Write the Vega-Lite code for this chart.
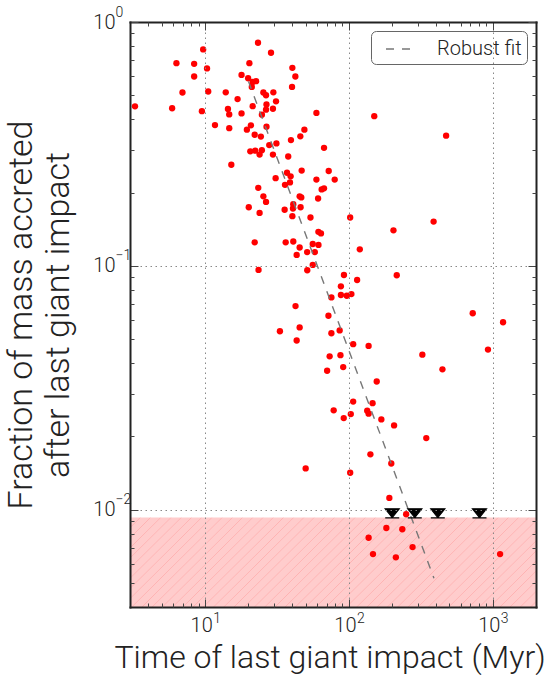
{
  "$schema": "https://vega.github.io/schema/vega-lite/v6.json",
  "width": 406,
  "height": 585,
  "autosize": "none",
  "padding": {"left": 130, "top": 22, "right": 16, "bottom": 68},
  "config": {
    "view": {"stroke": null},
    "font": "Roboto",
    "axis": {
      "labelFont": "Roboto", "labelFontWeight": 300, "labelColor": "#222",
      "titleFont": "Roboto", "titleFontWeight": 300, "titleColor": "#222",
      "tickColor": "#444", "tickWidth": 1,
      "domainColor": "#222", "domainWidth": 2, "domainCap": "square",
      "labelFlush": false, "labelOverlap": false
    },
    "legend": {
      "orient": "top-right", "offset": 9, "padding": 5,
      "strokeColor": "#666", "fillColor": "white", "cornerRadius": 5,
      "labelFont": "Roboto", "labelFontWeight": 300, "labelFontSize": 20, "labelColor": "#222",
      "symbolSize": 576, "symbolStrokeWidth": 1.4, "symbolOffset": 9, "labelOffset": 26
    }
  },
  "datasets": {
    "band": [{"x1": 3, "x2": 2000, "y1": 0.004, "y2": 0.0093}],
    "fit": [{"t": 20, "f": 0.571, "series": "Robust fit"}, {"t": 390, "f": 0.00525, "series": "Robust fit"}],
    "limits": [{"t": 200, "f": 0.0093}, {"t": 287, "f": 0.0093}, {"t": 415, "f": 0.0093}, {"t": 809, "f": 0.0093}],
    "pts": [
      {"t": 3.25, "f": 0.451}, {"t": 5.89, "f": 0.443}, {"t": 6.31, "f": 0.678}, {"t": 6.95, "f": 0.514},
      {"t": 8.38, "f": 0.674}, {"t": 8.38, "f": 0.598}, {"t": 9.68, "f": 0.772}, {"t": 10.3, "f": 0.645},
      {"t": 9.49, "f": 0.431}, {"t": 10.5, "f": 0.519}, {"t": 11.7, "f": 0.378}, {"t": 13.9, "f": 0.515},
      {"t": 14.4, "f": 0.44}, {"t": 14.7, "f": 0.418}, {"t": 14.7, "f": 0.367}, {"t": 15.2, "f": 0.26},
      {"t": 16.8, "f": 0.483}, {"t": 17.9, "f": 0.607}, {"t": 17.9, "f": 0.422}, {"t": 20.3, "f": 0.678},
      {"t": 19.9, "f": 0.588}, {"t": 21.4, "f": 0.568}, {"t": 22.6, "f": 0.572}, {"t": 21.1, "f": 0.542},
      {"t": 23.3, "f": 0.822}, {"t": 28.7, "f": 0.748}, {"t": 25.4, "f": 0.514}, {"t": 26.5, "f": 0.501},
      {"t": 29.8, "f": 0.515}, {"t": 31.1, "f": 0.473}, {"t": 26.7, "f": 0.459}, {"t": 21.4, "f": 0.452},
      {"t": 24.8, "f": 0.417}, {"t": 26.5, "f": 0.437}, {"t": 29.6, "f": 0.441}, {"t": 20.8, "f": 0.377},
      {"t": 19.5, "f": 0.362}, {"t": 26.7, "f": 0.372}, {"t": 22.1, "f": 0.345}, {"t": 24.4, "f": 0.339},
      {"t": 40.4, "f": 0.649}, {"t": 42.4, "f": 0.598}, {"t": 40.2, "f": 0.542}, {"t": 27.9, "f": 0.313},
      {"t": 31.3, "f": 0.318}, {"t": 39.5, "f": 0.328}, {"t": 45.9, "f": 0.34}, {"t": 49.0, "f": 0.362},
      {"t": 59.4, "f": 0.424}, {"t": 20.6, "f": 0.295}, {"t": 22.3, "f": 0.297}, {"t": 23.9, "f": 0.286},
      {"t": 24.8, "f": 0.298}, {"t": 29.6, "f": 0.286}, {"t": 37.8, "f": 0.281}, {"t": 30.9, "f": 0.229},
      {"t": 37.1, "f": 0.241}, {"t": 39.3, "f": 0.233}, {"t": 46.9, "f": 0.246}, {"t": 35.9, "f": 0.215},
      {"t": 38.9, "f": 0.22}, {"t": 59.4, "f": 0.226}, {"t": 67.1, "f": 0.305}, {"t": 72.3, "f": 0.245},
      {"t": 79.6, "f": 0.226}, {"t": 64.6, "f": 0.206}, {"t": 67.1, "f": 0.208}, {"t": 23.4, "f": 0.209},
      {"t": 25.4, "f": 0.193}, {"t": 45.4, "f": 0.193}, {"t": 46.6, "f": 0.191}, {"t": 61.0, "f": 0.189},
      {"t": 150, "f": 0.411}, {"t": 474, "f": 0.342},
      {"t": 26.5, "f": 0.183}, {"t": 20.1, "f": 0.174}, {"t": 23.9, "f": 0.165}, {"t": 35.7, "f": 0.17},
      {"t": 41.0, "f": 0.179}, {"t": 40.8, "f": 0.172}, {"t": 46.1, "f": 0.174}, {"t": 40.4, "f": 0.16},
      {"t": 54.0, "f": 0.158}, {"t": 61.3, "f": 0.138}, {"t": 63.9, "f": 0.136}, {"t": 22.1, "f": 0.125},
      {"t": 36.3, "f": 0.125}, {"t": 41.0, "f": 0.126}, {"t": 45.4, "f": 0.119}, {"t": 56.0, "f": 0.123},
      {"t": 61.4, "f": 0.122}, {"t": 51.2, "f": 0.114}, {"t": 57.9, "f": 0.114}, {"t": 43.3, "f": 0.111},
      {"t": 56.0, "f": 0.101}, {"t": 51.3, "f": 0.096}, {"t": 23.5, "f": 0.0963}, {"t": 75.5, "f": 0.0743},
      {"t": 42.5, "f": 0.0685}, {"t": 72.0, "f": 0.0625}, {"t": 33.1, "f": 0.054}, {"t": 45.4, "f": 0.056},
      {"t": 75.5, "f": 0.053}, {"t": 43.3, "f": 0.0495}, {"t": 73.4, "f": 0.0426}, {"t": 70.5, "f": 0.0372},
      {"t": 102, "f": 0.158}, {"t": 204, "f": 0.14}, {"t": 388, "f": 0.152}, {"t": 119, "f": 0.117},
      {"t": 92.3, "f": 0.0918}, {"t": 114, "f": 0.0876}, {"t": 215, "f": 0.0916}, {"t": 87.9, "f": 0.0825},
      {"t": 87.9, "f": 0.076}, {"t": 96.6, "f": 0.0755}, {"t": 104, "f": 0.0767}, {"t": 86.2, "f": 0.0544},
      {"t": 726, "f": 0.064}, {"t": 1180, "f": 0.0588}, {"t": 107, "f": 0.0478}, {"t": 137, "f": 0.047},
      {"t": 87.3, "f": 0.0431}, {"t": 91.2, "f": 0.0385}, {"t": 324, "f": 0.0433}, {"t": 927, "f": 0.0454},
      {"t": 447, "f": 0.0377}, {"t": 156, "f": 0.0336}, {"t": 107, "f": 0.0278}, {"t": 146, "f": 0.0274},
      {"t": 78.3, "f": 0.0256}, {"t": 50.0, "f": 0.0148}, {"t": 92, "f": 0.0238}, {"t": 103, "f": 0.0247},
      {"t": 134, "f": 0.0255}, {"t": 137, "f": 0.0248}, {"t": 168, "f": 0.0235}, {"t": 206, "f": 0.0222},
      {"t": 345, "f": 0.0197}, {"t": 141, "f": 0.0169}, {"t": 197, "f": 0.0155}, {"t": 102, "f": 0.0142},
      {"t": 191, "f": 0.0112}, {"t": 250, "f": 0.0096}, {"t": 182, "f": 0.00843}, {"t": 235, "f": 0.00833},
      {"t": 137, "f": 0.00769}, {"t": 277, "f": 0.00704}, {"t": 147, "f": 0.00659}, {"t": 212, "f": 0.00639},
      {"t": 1125, "f": 0.00659}
    ]
  },
  "layer": [
    {
      "data": {"name": "band"},
      "mark": {
        "type": "rect",
        "fill": {
          "gradient": "linear", "x1": 0, "y1": 0, "x2": 1.2, "y2": 0.267,
          "stops": [
            {"offset": 0, "color": "rgba(255,0,0,0.2)"},
            {"offset": 0.0182, "color": "rgba(255,0,0,0.2)"}, {"offset": 0.02, "color": "rgba(255,0,0,0.3)"}, {"offset": 0.0218, "color": "rgba(255,0,0,0.2)"},
            {"offset": 0.0382, "color": "rgba(255,0,0,0.2)"}, {"offset": 0.04, "color": "rgba(255,0,0,0.3)"}, {"offset": 0.0418, "color": "rgba(255,0,0,0.2)"},
            {"offset": 0.0582, "color": "rgba(255,0,0,0.2)"}, {"offset": 0.06, "color": "rgba(255,0,0,0.3)"}, {"offset": 0.0618, "color": "rgba(255,0,0,0.2)"},
            {"offset": 0.0782, "color": "rgba(255,0,0,0.2)"}, {"offset": 0.08, "color": "rgba(255,0,0,0.3)"}, {"offset": 0.0818, "color": "rgba(255,0,0,0.2)"},
            {"offset": 0.0982, "color": "rgba(255,0,0,0.2)"}, {"offset": 0.10, "color": "rgba(255,0,0,0.3)"}, {"offset": 0.1018, "color": "rgba(255,0,0,0.2)"},
            {"offset": 0.1182, "color": "rgba(255,0,0,0.2)"}, {"offset": 0.12, "color": "rgba(255,0,0,0.3)"}, {"offset": 0.1218, "color": "rgba(255,0,0,0.2)"},
            {"offset": 0.1382, "color": "rgba(255,0,0,0.2)"}, {"offset": 0.14, "color": "rgba(255,0,0,0.3)"}, {"offset": 0.1418, "color": "rgba(255,0,0,0.2)"},
            {"offset": 0.1582, "color": "rgba(255,0,0,0.2)"}, {"offset": 0.16, "color": "rgba(255,0,0,0.3)"}, {"offset": 0.1618, "color": "rgba(255,0,0,0.2)"},
            {"offset": 0.1782, "color": "rgba(255,0,0,0.2)"}, {"offset": 0.18, "color": "rgba(255,0,0,0.3)"}, {"offset": 0.1818, "color": "rgba(255,0,0,0.2)"},
            {"offset": 0.1982, "color": "rgba(255,0,0,0.2)"}, {"offset": 0.20, "color": "rgba(255,0,0,0.3)"}, {"offset": 0.2018, "color": "rgba(255,0,0,0.2)"},
            {"offset": 0.2182, "color": "rgba(255,0,0,0.2)"}, {"offset": 0.22, "color": "rgba(255,0,0,0.3)"}, {"offset": 0.2218, "color": "rgba(255,0,0,0.2)"},
            {"offset": 0.2382, "color": "rgba(255,0,0,0.2)"}, {"offset": 0.24, "color": "rgba(255,0,0,0.3)"}, {"offset": 0.2418, "color": "rgba(255,0,0,0.2)"},
            {"offset": 0.2582, "color": "rgba(255,0,0,0.2)"}, {"offset": 0.26, "color": "rgba(255,0,0,0.3)"}, {"offset": 0.2618, "color": "rgba(255,0,0,0.2)"},
            {"offset": 0.2782, "color": "rgba(255,0,0,0.2)"}, {"offset": 0.28, "color": "rgba(255,0,0,0.3)"}, {"offset": 0.2818, "color": "rgba(255,0,0,0.2)"},
            {"offset": 0.2982, "color": "rgba(255,0,0,0.2)"}, {"offset": 0.30, "color": "rgba(255,0,0,0.3)"}, {"offset": 0.3018, "color": "rgba(255,0,0,0.2)"},
            {"offset": 0.3182, "color": "rgba(255,0,0,0.2)"}, {"offset": 0.32, "color": "rgba(255,0,0,0.3)"}, {"offset": 0.3218, "color": "rgba(255,0,0,0.2)"},
            {"offset": 0.3382, "color": "rgba(255,0,0,0.2)"}, {"offset": 0.34, "color": "rgba(255,0,0,0.3)"}, {"offset": 0.3418, "color": "rgba(255,0,0,0.2)"},
            {"offset": 0.3582, "color": "rgba(255,0,0,0.2)"}, {"offset": 0.36, "color": "rgba(255,0,0,0.3)"}, {"offset": 0.3618, "color": "rgba(255,0,0,0.2)"},
            {"offset": 0.3782, "color": "rgba(255,0,0,0.2)"}, {"offset": 0.38, "color": "rgba(255,0,0,0.3)"}, {"offset": 0.3818, "color": "rgba(255,0,0,0.2)"},
            {"offset": 0.3982, "color": "rgba(255,0,0,0.2)"}, {"offset": 0.40, "color": "rgba(255,0,0,0.3)"}, {"offset": 0.4018, "color": "rgba(255,0,0,0.2)"},
            {"offset": 0.4182, "color": "rgba(255,0,0,0.2)"}, {"offset": 0.42, "color": "rgba(255,0,0,0.3)"}, {"offset": 0.4218, "color": "rgba(255,0,0,0.2)"},
            {"offset": 0.4382, "color": "rgba(255,0,0,0.2)"}, {"offset": 0.44, "color": "rgba(255,0,0,0.3)"}, {"offset": 0.4418, "color": "rgba(255,0,0,0.2)"},
            {"offset": 0.4582, "color": "rgba(255,0,0,0.2)"}, {"offset": 0.46, "color": "rgba(255,0,0,0.3)"}, {"offset": 0.4618, "color": "rgba(255,0,0,0.2)"},
            {"offset": 0.4782, "color": "rgba(255,0,0,0.2)"}, {"offset": 0.48, "color": "rgba(255,0,0,0.3)"}, {"offset": 0.4818, "color": "rgba(255,0,0,0.2)"},
            {"offset": 0.4982, "color": "rgba(255,0,0,0.2)"}, {"offset": 0.50, "color": "rgba(255,0,0,0.3)"}, {"offset": 0.5018, "color": "rgba(255,0,0,0.2)"},
            {"offset": 0.5182, "color": "rgba(255,0,0,0.2)"}, {"offset": 0.52, "color": "rgba(255,0,0,0.3)"}, {"offset": 0.5218, "color": "rgba(255,0,0,0.2)"},
            {"offset": 0.5382, "color": "rgba(255,0,0,0.2)"}, {"offset": 0.54, "color": "rgba(255,0,0,0.3)"}, {"offset": 0.5418, "color": "rgba(255,0,0,0.2)"},
            {"offset": 0.5582, "color": "rgba(255,0,0,0.2)"}, {"offset": 0.56, "color": "rgba(255,0,0,0.3)"}, {"offset": 0.5618, "color": "rgba(255,0,0,0.2)"},
            {"offset": 0.5782, "color": "rgba(255,0,0,0.2)"}, {"offset": 0.58, "color": "rgba(255,0,0,0.3)"}, {"offset": 0.5818, "color": "rgba(255,0,0,0.2)"},
            {"offset": 0.5982, "color": "rgba(255,0,0,0.2)"}, {"offset": 0.60, "color": "rgba(255,0,0,0.3)"}, {"offset": 0.6018, "color": "rgba(255,0,0,0.2)"},
            {"offset": 0.6182, "color": "rgba(255,0,0,0.2)"}, {"offset": 0.62, "color": "rgba(255,0,0,0.3)"}, {"offset": 0.6218, "color": "rgba(255,0,0,0.2)"},
            {"offset": 0.6382, "color": "rgba(255,0,0,0.2)"}, {"offset": 0.64, "color": "rgba(255,0,0,0.3)"}, {"offset": 0.6418, "color": "rgba(255,0,0,0.2)"},
            {"offset": 0.6582, "color": "rgba(255,0,0,0.2)"}, {"offset": 0.66, "color": "rgba(255,0,0,0.3)"}, {"offset": 0.6618, "color": "rgba(255,0,0,0.2)"},
            {"offset": 0.6782, "color": "rgba(255,0,0,0.2)"}, {"offset": 0.68, "color": "rgba(255,0,0,0.3)"}, {"offset": 0.6818, "color": "rgba(255,0,0,0.2)"},
            {"offset": 0.6982, "color": "rgba(255,0,0,0.2)"}, {"offset": 0.70, "color": "rgba(255,0,0,0.3)"}, {"offset": 0.7018, "color": "rgba(255,0,0,0.2)"},
            {"offset": 0.7182, "color": "rgba(255,0,0,0.2)"}, {"offset": 0.72, "color": "rgba(255,0,0,0.3)"}, {"offset": 0.7218, "color": "rgba(255,0,0,0.2)"},
            {"offset": 0.7382, "color": "rgba(255,0,0,0.2)"}, {"offset": 0.74, "color": "rgba(255,0,0,0.3)"}, {"offset": 0.7418, "color": "rgba(255,0,0,0.2)"},
            {"offset": 0.7582, "color": "rgba(255,0,0,0.2)"}, {"offset": 0.76, "color": "rgba(255,0,0,0.3)"}, {"offset": 0.7618, "color": "rgba(255,0,0,0.2)"},
            {"offset": 0.7782, "color": "rgba(255,0,0,0.2)"}, {"offset": 0.78, "color": "rgba(255,0,0,0.3)"}, {"offset": 0.7818, "color": "rgba(255,0,0,0.2)"},
            {"offset": 0.7982, "color": "rgba(255,0,0,0.2)"}, {"offset": 0.80, "color": "rgba(255,0,0,0.3)"}, {"offset": 0.8018, "color": "rgba(255,0,0,0.2)"},
            {"offset": 0.8182, "color": "rgba(255,0,0,0.2)"}, {"offset": 0.82, "color": "rgba(255,0,0,0.3)"}, {"offset": 0.8218, "color": "rgba(255,0,0,0.2)"},
            {"offset": 0.8382, "color": "rgba(255,0,0,0.2)"}, {"offset": 0.84, "color": "rgba(255,0,0,0.3)"}, {"offset": 0.8418, "color": "rgba(255,0,0,0.2)"},
            {"offset": 0.8582, "color": "rgba(255,0,0,0.2)"}, {"offset": 0.86, "color": "rgba(255,0,0,0.3)"}, {"offset": 0.8618, "color": "rgba(255,0,0,0.2)"},
            {"offset": 0.8782, "color": "rgba(255,0,0,0.2)"}, {"offset": 0.88, "color": "rgba(255,0,0,0.3)"}, {"offset": 0.8818, "color": "rgba(255,0,0,0.2)"},
            {"offset": 0.8982, "color": "rgba(255,0,0,0.2)"}, {"offset": 0.90, "color": "rgba(255,0,0,0.3)"}, {"offset": 0.9018, "color": "rgba(255,0,0,0.2)"},
            {"offset": 0.9182, "color": "rgba(255,0,0,0.2)"}, {"offset": 0.92, "color": "rgba(255,0,0,0.3)"}, {"offset": 0.9218, "color": "rgba(255,0,0,0.2)"},
            {"offset": 0.9382, "color": "rgba(255,0,0,0.2)"}, {"offset": 0.94, "color": "rgba(255,0,0,0.3)"}, {"offset": 0.9418, "color": "rgba(255,0,0,0.2)"},
            {"offset": 0.9582, "color": "rgba(255,0,0,0.2)"}, {"offset": 0.96, "color": "rgba(255,0,0,0.3)"}, {"offset": 0.9618, "color": "rgba(255,0,0,0.2)"},
            {"offset": 1, "color": "rgba(255,0,0,0.2)"}
          ]
        }
      },
      "encoding": {
        "x": {
          "field": "x1", "type": "quantitative",
          "scale": {"type": "log", "domain": [3, 2000], "nice": false, "zero": false},
          "axis": {
            "orient": "bottom", "values": [10, 100, 1000], "tickSize": -8, "domain": true,
            "grid": true, "gridDash": [1.5, 3.5], "gridColor": "#888", "gridWidth": 1,
            "labelExpr": "'10'", "labelOffset": -4,
            "labelFontSize": 20, "labelPadding": 16,
            "title": "Time of last giant impact (Myr)", "titleFontSize": 32,
            "titleAlign": "left", "titleX": -16, "titleY": 60, "titleBaseline": "alphabetic",
            "zindex": 1
          }
        },
        "x2": {"field": "x2"},
        "y": {
          "field": "y1", "type": "quantitative",
          "scale": {"type": "log", "domain": [0.004, 1], "nice": false, "zero": false},
          "axis": {
            "orient": "left", "values": [0.01, 0.1, 1], "tickSize": -8, "domain": true,
            "grid": true, "gridDash": [1.5, 3.5], "gridColor": "#888", "gridWidth": 1,
            "labelExpr": "'10'",
            "labelFontSize": 20, "labelPadding": 23,
            "title": ["Fraction of mass accreted", "after last giant impact"], "titleFontSize": 34,
            "titleLineHeight": 37, "titleX": -99, "titleBaseline": "alphabetic",
            "zindex": 1
          }
        },
        "y2": {"field": "y2"}
      }
    },
    {
      "data": {"name": "pts"},
      "mark": {"type": "circle", "color": "#ff0000", "size": 40, "opacity": 1},
      "encoding": {
        "x": {
          "field": "t", "type": "quantitative",
          "axis": {
            "orient": "bottom", "values": [4, 5, 6, 7, 8, 9, 10, 20, 30, 40, 50, 60, 70, 80, 90, 100, 200, 300, 400, 500, 600, 700, 800, 900, 1000],
            "tickSize": -4,
            "tickOpacity": {"condition": {"test": "datum.value == 10 || datum.value == 100 || datum.value == 1000", "value": 0}, "value": 1},
            "labelExpr": "datum.value == 10 ? '1' : datum.value == 100 ? '2' : datum.value == 1000 ? '3' : ''",
            "labelFontSize": 14, "labelAlign": "left", "labelBaseline": "top", "labelOffset": 7.5, "labelPadding": 8,
            "domain": false, "grid": false, "title": null, "zindex": 1
          }
        },
        "y": {
          "field": "f", "type": "quantitative",
          "axis": {
            "orient": "left", "values": [0.005, 0.006, 0.007, 0.008, 0.009, 0.01, 0.02, 0.03, 0.04, 0.05, 0.06, 0.07, 0.08, 0.09, 0.1, 0.2, 0.3, 0.4, 0.5, 0.6, 0.7, 0.8, 0.9, 1],
            "tickSize": -4,
            "tickOpacity": {"condition": {"test": "datum.value == 0.01 || datum.value == 0.1 || datum.value == 1", "value": 0}, "value": 1},
            "labelExpr": "datum.value == 1 ? '0' : datum.value == 0.1 ? '−1' : datum.value == 0.01 ? '−2' : ''",
            "labelFontSize": 14, "labelAlign": "left", "labelBaseline": "middle", "labelOffset": -10, "labelPadding": 19,
            "domain": false, "grid": false, "title": null, "zindex": 1
          }
        }
      }
    },
    {
      "data": {"name": "fit"},
      "mark": {"type": "line", "strokeWidth": 1.4},
      "encoding": {
        "x": {
          "field": "t", "type": "quantitative",
          "axis": {"orient": "top", "values": [10, 100, 1000], "tickSize": -8, "domain": true, "grid": false, "labels": false, "title": null, "zindex": 1}
        },
        "y": {
          "field": "f", "type": "quantitative",
          "axis": {"orient": "right", "values": [0.01, 0.1, 1], "tickSize": -8, "domain": true, "grid": false, "labels": false, "title": null, "zindex": 1}
        },
        "color": {"field": "series", "type": "nominal", "scale": {"range": ["#777777"]}, "legend": {"title": null}},
        "strokeDash": {"field": "series", "type": "nominal", "scale": {"range": [[8, 8]]}, "legend": {"title": null}}
      }
    },
    {
      "data": {"name": "limits"},
      "mark": {"type": "point", "shape": "M-1,-1.25L1,-1.25L0,0ZM-1,0.05L1,0.05", "filled": true, "color": "black", "stroke": "black", "strokeWidth": 1.2, "size": 196, "opacity": 1},
      "encoding": {
        "x": {
          "field": "t", "type": "quantitative",
          "axis": {
            "orient": "top", "values": [4, 5, 6, 7, 8, 9, 20, 30, 40, 50, 60, 70, 80, 90, 200, 300, 400, 500, 600, 700, 800, 900],
            "tickSize": -4, "domain": false, "grid": false, "labels": false, "title": null, "zindex": 1
          }
        },
        "y": {
          "field": "f", "type": "quantitative",
          "axis": {
            "orient": "right", "values": [0.005, 0.006, 0.007, 0.008, 0.009, 0.02, 0.03, 0.04, 0.05, 0.06, 0.07, 0.08, 0.09, 0.2, 0.3, 0.4, 0.5, 0.6, 0.7, 0.8, 0.9],
            "tickSize": -4, "domain": false, "grid": false, "labels": false, "title": null, "zindex": 1
          }
        }
      }
    }
  ],
  "resolve": {"axis": {"x": "independent", "y": "independent"}}
}
